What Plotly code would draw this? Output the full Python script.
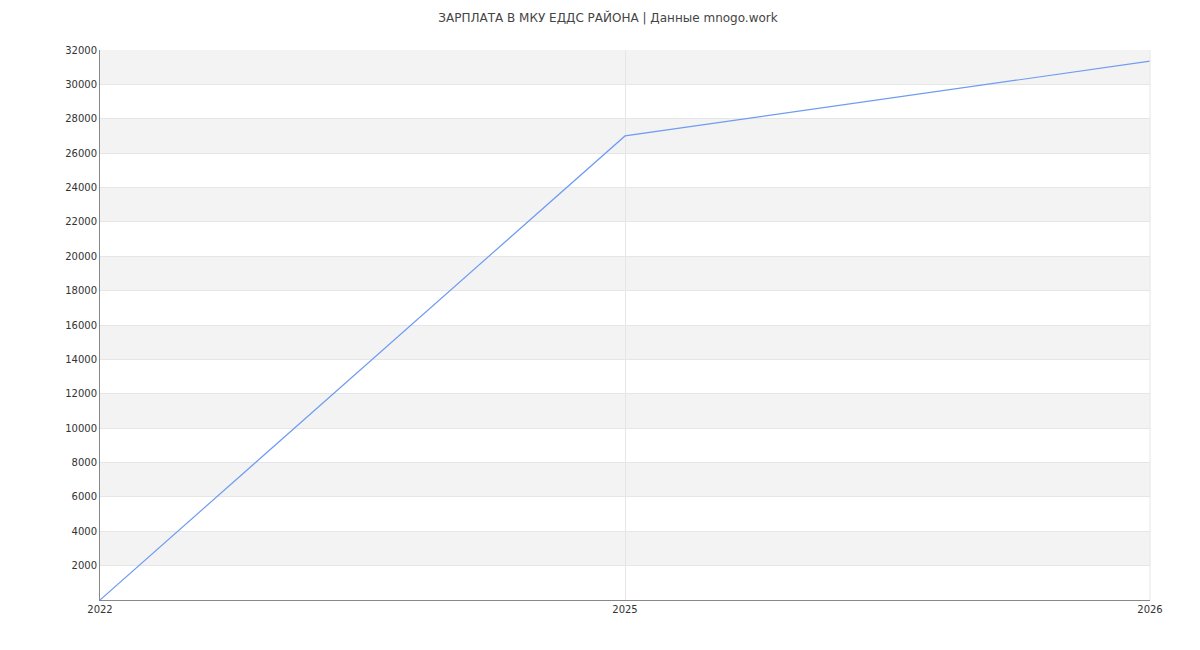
import plotly.graph_objects as go

# Данные
years = ["2022", "2025", "2026"]
salary = [0, 27000, 31350]
y_ticks = list(range(2000, 32001, 2000))

fig = go.Figure()

# Чередующиеся серые полосы
shapes = []
for lo in range(30000, 0, -4000):
    shapes.append(dict(type="rect", xref="paper", yref="y", x0=0, x1=1,
                       y0=lo, y1=lo + 2000, fillcolor="#f3f3f3",
                       line=dict(width=0), layer="below"))

fig.add_trace(go.Scatter(
    x=years, y=salary, mode="lines",
    line=dict(color="#6f9bf2", width=1.2),
    hoverinfo="x+y"
))

fig.update_layout(
    width=1200, height=650,
    title=dict(text="ЗАРПЛАТА В МКУ ЕДДС РАЙОНА | Данные mnogo.work",
               x=0.5, xanchor="center", y=0.992, yanchor="top",
               font=dict(family="DejaVu Sans", size=12, color="#444")),
    plot_bgcolor="white", paper_bgcolor="white",
    margin=dict(l=92, r=58, t=42, b=58),
    shapes=shapes,
    showlegend=False,
    font=dict(family="DejaVu Sans", size=10, color="#333"),
    xaxis=dict(type="category", range=[0, 2], showgrid=True, gridcolor="#e6e6e6",
               showline=True, linecolor="#888", ticks="", zeroline=False),
    yaxis=dict(range=[0, 32000], tickvals=y_ticks, tickformat="d",
               showgrid=True, gridcolor="#e6e6e6",
               showline=True, linecolor="#888", zeroline=False),
)
fig.add_shape(type="line", xref="paper", yref="paper", x0=1, x1=1, y0=0, y1=1,
              line=dict(color="#e6e6e6", width=1))

fig.write_html("out.html")
